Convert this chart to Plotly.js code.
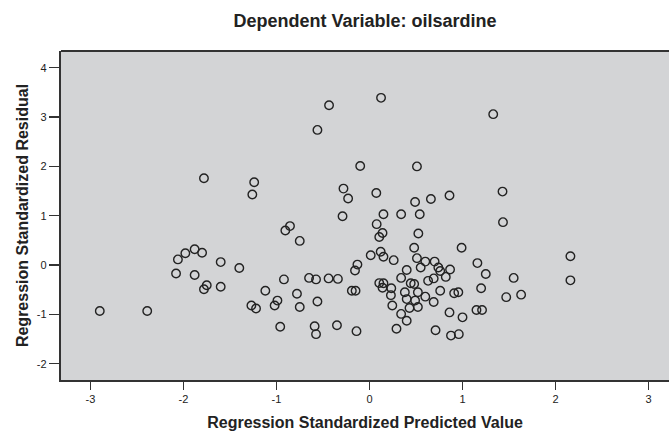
<!DOCTYPE html>
<html><head><meta charset="utf-8">
<script src="https://cdn.plot.ly/plotly-3.0.1.min.js"></script>
<style>html,body{margin:0;padding:0;background:#fff}#c{width:669px;height:431px}</style>
</head><body><div id="c"></div>
<script>
const predicted = [
 -1.78,-1.24,-1.26,
 -0.435,0.124,-0.56,-0.10,0.51,-0.28,-0.23,0.073,0.49,0.66,0.86,
 1.33,1.43,
 -2.90,-2.39,-2.06,-1.98,-1.88,-1.80,-1.60,-1.40,-2.08,-1.88,-1.75,-1.78,-1.60,-1.12,-1.27,-1.22,
 -0.29,0.15,0.34,0.54,-0.855,-0.905,-0.75,0.077,0.14,0.105,0.525,0.48,0.99,0.013,0.12,0.15,0.26,-0.13,-0.156,
 0.51,0.60,0.70,0.55,0.40,0.74,0.76,0.866,0.82,0.69,0.63,0.34,-0.92,-0.65,-0.575,-0.44,-0.34,
 0.105,0.15,0.14,0.234,0.443,0.48,0.38,0.52,0.76,0.91,0.955,-0.78,-0.19,-0.15,0.23,
 -0.99,-1.02,-0.75,-0.56,0.40,0.49,0.60,0.69,0.43,0.52,0.245,0.34,0.40,0.86,1.00,
 -0.96,-0.59,-0.575,-0.35,-0.14,0.29,0.71,0.876,0.96,
 1.435,1.16,1.25,1.20,1.55,1.47,1.63,1.15,1.21,2.16,2.16
];
const residual = [
 1.76,1.68,1.43,
 3.24,3.39,2.74,2.01,2.00,1.55,1.35,1.46,1.28,1.34,1.41,
 3.06,1.49,
 -0.93,-0.93,0.115,0.24,0.32,0.25,0.06,-0.06,-0.17,-0.20,-0.41,-0.49,-0.44,-0.52,-0.82,-0.88,
 0.99,1.03,1.03,1.03,0.79,0.70,0.49,0.83,0.65,0.57,0.64,0.35,0.35,0.20,0.27,0.17,0.10,0.01,-0.11,
 0.14,0.07,0.07,-0.05,-0.10,-0.05,-0.12,-0.09,-0.24,-0.27,-0.32,-0.26,-0.29,-0.26,-0.29,-0.27,-0.28,
 -0.365,-0.37,-0.46,-0.47,-0.37,-0.385,-0.55,-0.55,-0.52,-0.57,-0.55,-0.58,-0.52,-0.52,-0.61,
 -0.72,-0.82,-0.85,-0.74,-0.69,-0.72,-0.64,-0.75,-0.87,-0.85,-0.82,-0.99,-1.13,-0.96,-1.06,
 -1.25,-1.24,-1.40,-1.22,-1.34,-1.29,-1.32,-1.43,-1.40,
 0.87,0.04,-0.18,-0.47,-0.26,-0.65,-0.60,-0.91,-0.91,0.18,-0.31
];
const xTicks = [-3,-2,-1,0,1,2,3];
const yTicks = [-2,-1,0,1,2,3,4];

const trace = {
  x: predicted, y: residual, type: 'scatter', mode: 'markers',
  marker: {symbol: 'circle-open', size: 8.5, color: '#222', line: {width: 1.4, color: '#222'}},
  hoverinfo: 'skip'
};
const font = {family: 'Liberation Sans, Arial, sans-serif', color: '#222'};
const layout = {
  width: 669, height: 431,
  margin: {l: 61, r: 0, t: 51, b: 51},
  paper_bgcolor: '#ffffff', plot_bgcolor: '#d3d4d6',
  showlegend: false,
  font: Object.assign({size: 11}, font),
  title: {text: '<b>Dependent Variable: oilsardine</b>', font: Object.assign({}, font, {size: 18}),
          x: 0.5, xref: 'paper', y: 0.952, yref: 'container', yanchor: 'middle'},
  xaxis: {
    range: [-3.317, 3.22], tickvals: xTicks, ticktext: xTicks.map(String),
    showgrid: false, zeroline: false, ticks: 'outside', ticklen: 8, tickcolor: '#333', tickwidth: 1.4,
    showline: true, linecolor: '#333', linewidth: 2.2, mirror: false,
    tickfont: Object.assign({}, font, {size: 11}),
    title: {text: '<b>Regression Standardized Predicted Value</b>', font: Object.assign({}, font, {size: 16}), standoff: 16},
    automargin: false
  },
  yaxis: {
    range: [-2.33, 4.34], tickvals: yTicks, ticktext: yTicks.map(String),
    showgrid: false, zeroline: false, ticks: 'outside', ticklen: 10, tickcolor: '#333', tickwidth: 1.4,
    showline: true, linecolor: '#333', linewidth: 2.2, mirror: false,
    tickfont: Object.assign({}, font, {size: 11}),
    title: {text: '<b>Regression Standardized Residual</b>', font: Object.assign({}, font, {size: 16}), standoff: 4},
    automargin: false
  },
  shapes: [{type: 'line', xref: 'paper', yref: 'paper', x0: 0, x1: 1, y0: 1, y1: 1, line: {color: '#333', width: 2.2}}]
};
Plotly.newPlot('c', [trace], layout, {staticPlot: true, displayModeBar: false});
</script></body></html>
